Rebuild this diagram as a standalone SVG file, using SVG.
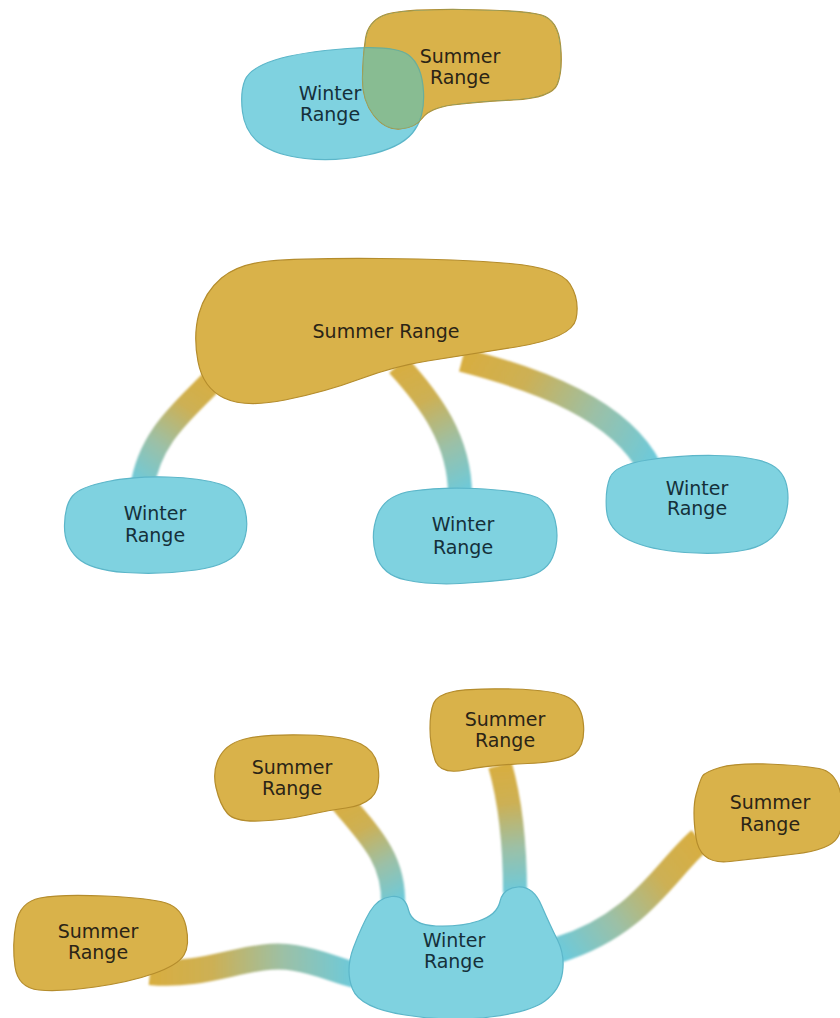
<svg xmlns="http://www.w3.org/2000/svg" width="840" height="1018" viewBox="0 0 840 1018">
<defs>
<style>
.sum{fill:#D9B24A;stroke:#B48C2C;stroke-width:1.2}
.win{fill:#7FD2E0;stroke:#5CB6C9;stroke-width:1.2}
.lbl{font-family:"DejaVu Sans","Open Sans",sans-serif;font-size:19px;text-anchor:middle}
.ls{fill:#2b2416}
.lw{fill:#15303a}
.con{fill:none;stroke-linecap:butt;filter:url(#soft)}
</style>
<filter id="soft" filterUnits="userSpaceOnUse" x="0" y="0" width="840" height="1018"><feGaussianBlur stdDeviation="1.3"/></filter>
<linearGradient id="g1" gradientUnits="userSpaceOnUse" x1="215" y1="378" x2="142" y2="488"><stop offset="0" stop-color="#D8AE40"/><stop offset="0.3" stop-color="#CDB054"/><stop offset="0.65" stop-color="#9CC0A6"/><stop offset="1" stop-color="#6CCADB"/></linearGradient>
<linearGradient id="g2" gradientUnits="userSpaceOnUse" x1="398" y1="365" x2="460" y2="495"><stop offset="0" stop-color="#D8AE40"/><stop offset="0.3" stop-color="#CDB054"/><stop offset="0.65" stop-color="#9CC0A6"/><stop offset="1" stop-color="#6CCADB"/></linearGradient>
<linearGradient id="g3" gradientUnits="userSpaceOnUse" x1="462" y1="360" x2="650" y2="468"><stop offset="0" stop-color="#D8AE40"/><stop offset="0.3" stop-color="#CDB054"/><stop offset="0.65" stop-color="#9CC0A6"/><stop offset="1" stop-color="#6CCADB"/></linearGradient>
<linearGradient id="ga" gradientUnits="userSpaceOnUse" x1="340" y1="800" x2="393" y2="905"><stop offset="0" stop-color="#D8AE40"/><stop offset="0.3" stop-color="#CDB054"/><stop offset="0.65" stop-color="#9CC0A6"/><stop offset="1" stop-color="#6CCADB"/></linearGradient>
<linearGradient id="gb" gradientUnits="userSpaceOnUse" x1="500" y1="765" x2="515" y2="893"><stop offset="0" stop-color="#D8AE40"/><stop offset="0.3" stop-color="#CDB054"/><stop offset="0.65" stop-color="#9CC0A6"/><stop offset="1" stop-color="#6CCADB"/></linearGradient>
<linearGradient id="gc" gradientUnits="userSpaceOnUse" x1="700" y1="840" x2="558" y2="950"><stop offset="0" stop-color="#D8AE40"/><stop offset="0.3" stop-color="#CDB054"/><stop offset="0.65" stop-color="#9CC0A6"/><stop offset="1" stop-color="#6CCADB"/></linearGradient>
<linearGradient id="gd" gradientUnits="userSpaceOnUse" x1="150" y1="972" x2="355" y2="975"><stop offset="0" stop-color="#D8AE40"/><stop offset="0.3" stop-color="#CDB054"/><stop offset="0.65" stop-color="#9CC0A6"/><stop offset="1" stop-color="#6CCADB"/></linearGradient>
<clipPath id="clipS0"><path d="M365.5,38.5 Q368,22 383,15.5 Q398,9 461.5,9.5 Q525,10 541.5,15 Q558,20 560.5,45 Q563,70 557.5,84 Q552,98 513.5,100 Q475,102 452.5,105 Q430,108 422.5,118 Q415,128 400,129 Q385,130 373.5,115 Q362,100 362.5,77.5 Q363,55 365.5,38.5 Z"/></clipPath>
</defs>
<rect width="840" height="1018" fill="#ffffff"/>

<g id="connectors">
<path class="con" stroke="url(#g1)" stroke-width="24" d="M215,378 C185,410 150,435 142,488"/>
<path class="con" stroke="url(#g2)" stroke-width="24" d="M398,365 C430,400 460,440 460,495"/>
<path class="con" stroke="url(#g3)" stroke-width="24" d="M462,360 C540,380 620,410 650,468"/>
<path class="con" stroke="url(#ga)" stroke-width="24" d="M340,800 C370,835 395,860 393,905"/>
<path class="con" stroke="url(#gb)" stroke-width="24" d="M500,765 C510,800 515,840 515,893"/>
<path class="con" stroke="url(#gc)" stroke-width="26" d="M700,840 C665,870 640,925 558,950"/>
<path class="con" stroke="url(#gd)" stroke-width="26" d="M150,972 C210,978 250,950 295,958 C320,962 335,970 355,975"/>
</g>

<g id="top-winter">
<path class="win" d="M245,80 Q250,68 275,60 Q300,52 347.5,48.5 Q395,45 408.5,55 Q422,65 423.5,91.5 Q425,118 412.5,133 Q400,148 367.5,155 Q335,162 305,158.5 Q275,155 260,143.5 Q245,132 242.5,112 Q240,92 245,80 Z"/>
</g>
<g id="top-summer">
<path class="sum" d="M365.5,38.5 Q368,22 383,15.5 Q398,9 461.5,9.5 Q525,10 541.5,15 Q558,20 560.5,45 Q563,70 557.5,84 Q552,98 513.5,100 Q475,102 452.5,105 Q430,108 422.5,118 Q415,128 400,129 Q385,130 373.5,115 Q362,100 362.5,77.5 Q363,55 365.5,38.5 Z"/>
<text class="lbl ls" x="460" y="63">Summer</text>
<text class="lbl ls" x="460" y="84">Range</text>
</g>
<g id="top-overlap">
<path clip-path="url(#clipS0)" fill="#88BC92" stroke="#6AAE9A" stroke-width="1.2" d="M245,80 Q250,68 275,60 Q300,52 347.5,48.5 Q395,45 408.5,55 Q422,65 423.5,91.5 Q425,118 412.5,133 Q400,148 367.5,155 Q335,162 305,158.5 Q275,155 260,143.5 Q245,132 242.5,112 Q240,92 245,80 Z"/>
<path fill="none" stroke="#8AA672" stroke-width="1" clip-path="url(#clipS0)" d="M365.5,38.5 Q368,22 383,15.5 Q398,9 461.5,9.5 Q525,10 541.5,15 Q558,20 560.5,45 Q563,70 557.5,84 Q552,98 513.5,100 Q475,102 452.5,105 Q430,108 422.5,118 Q415,128 400,129 Q385,130 373.5,115 Q362,100 362.5,77.5 Q363,55 365.5,38.5 Z"/>
<text class="lbl lw" x="330" y="100">Winter</text>
<text class="lbl lw" x="330" y="121">Range</text>
</g>

<g id="mid-summer">
<path class="sum" d="M221.5,278 Q238,264 269,261 Q300,258 380,258.5 Q460,259 510,263.5 Q560,268 570,284 Q580,300 576,319 Q572,338 516,347 Q460,356 427.5,361 Q395,366 360,379 Q325,392 285,400 Q245,408 224,398 Q203,388 198,361.5 Q193,335 199,313.5 Q205,292 221.5,278 Z"/>
<text class="lbl ls" x="386" y="338">Summer Range</text>
</g>
<g id="mid-winter-left">
<path class="win" d="M72.5,496 Q80,487 107.5,481.5 Q135,476 167.5,477 Q200,478 220,484 Q240,490 245,510 Q250,530 241,547.5 Q232,565 196,570 Q160,575 125,572.5 Q90,570 77,557.5 Q64,545 64.5,525 Q65,505 72.5,496 Z"/>
<text class="lbl lw" x="155" y="520">Winter</text>
<text class="lbl lw" x="155" y="542">Range</text>
</g>
<g id="mid-winter-center">
<path class="win" d="M377.5,515 Q385,495 412.5,491 Q440,487 475,488.5 Q510,490 530,495 Q550,500 555,520 Q560,540 552.5,557.5 Q545,575 517.5,578.5 Q490,582 460,583.5 Q430,585 406,580 Q382,575 376,555 Q370,535 377.5,515 Z"/>
<text class="lbl lw" x="463" y="531">Winter</text>
<text class="lbl lw" x="463" y="554">Range</text>
</g>
<g id="mid-winter-right">
<path class="win" d="M610,477.5 Q615,465 647.5,460 Q680,455 715,455.5 Q750,456 767.5,463 Q785,470 787.5,490 Q790,510 780,527.5 Q770,545 745,550 Q720,555 685,552.5 Q650,550 629,540 Q608,530 606.5,510 Q605,490 610,477.5 Z"/>
<text class="lbl lw" x="697" y="495">Winter</text>
<text class="lbl lw" x="697" y="515">Range</text>
</g>

<g id="bot-summer-a">
<path class="sum" d="M220,756 Q228,742 249,738 Q270,734 307.5,735 Q345,736 361,744 Q377,752 378.5,771 Q380,790 371,798 Q362,806 346,808 Q330,810 307.5,815 Q285,820 260,821 Q235,822 227.5,813.5 Q220,805 216,787.5 Q212,770 220,756 Z"/>
<text class="lbl ls" x="292" y="774">Summer</text>
<text class="lbl ls" x="292" y="795">Range</text>
</g>
<g id="bot-summer-b">
<path class="sum" d="M433.5,703.5 Q437,695 453.5,691.5 Q470,688 512.5,689 Q555,690 568.5,697.5 Q582,705 583.5,725 Q585,745 575,753.5 Q565,762 527.5,763.5 Q490,765 465,770 Q440,775 435,760 Q430,745 430,728.5 Q430,712 433.5,703.5 Z"/>
<text class="lbl ls" x="505" y="726">Summer</text>
<text class="lbl ls" x="505" y="747">Range</text>
</g>
<g id="bot-summer-c">
<path class="sum" d="M702.5,776 Q705,772 720,767.5 Q735,763 767.5,764 Q800,765 819,768.5 Q838,772 841.5,798.5 Q845,825 837.5,837.5 Q830,850 795,854 Q760,858 730,861.5 Q700,865 696,837.5 Q692,810 696,795 Q700,780 702.5,776 Z"/>
<text class="lbl ls" x="770" y="809">Summer</text>
<text class="lbl ls" x="770" y="831">Range</text>
</g>
<g id="bot-summer-d">
<path class="sum" d="M16,923.5 Q20,902 40,898 Q60,894 105,896 Q150,898 166,903 Q182,908 186,926.5 Q190,945 184,955 Q178,965 154,973.5 Q130,982 95,987 Q60,992 39,990 Q18,988 15,966.5 Q12,945 16,923.5 Z"/>
<text class="lbl ls" x="98" y="938">Summer</text>
<text class="lbl ls" x="98" y="959">Range</text>
</g>
<g id="bot-winter">
<path class="win" d="M370,911.5 Q378,898 391.5,896.5 Q405,895 408.5,910 Q412,925 436,926 Q460,927 478.5,921 Q497,915 500,901.5 Q503,888 518,887 Q533,886 541.5,905.5 Q550,925 557.5,940 Q565,955 562.5,972.5 Q560,990 545,1001 Q530,1012 490,1017 Q450,1022 405,1015 Q360,1008 352.5,989 Q345,970 353.5,947.5 Q362,925 370,911.5 Z"/>
<text class="lbl lw" x="454" y="947">Winter</text>
<text class="lbl lw" x="454" y="968">Range</text>
</g>
</svg>
